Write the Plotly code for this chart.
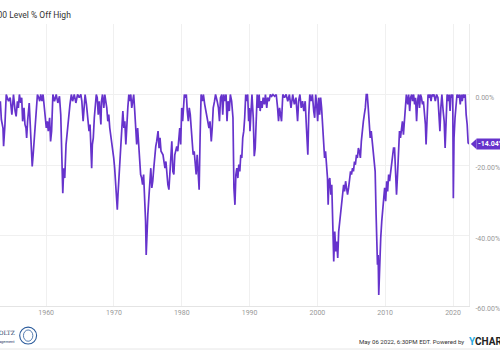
import plotly.graph_objects as go

# ---- data (decimal year, % off high) ----
years = [
    1953.24, 1953.39, 1953.63, 1953.72, 1953.92, 1954.11, 1954.45, 1954.69, 1954.94, 1955.18,
    1955.42, 1955.57, 1955.76, 1955.90, 1956.05, 1956.24, 1956.39, 1956.53, 1956.73, 1956.87,
    1957.02, 1957.12, 1957.26, 1957.41, 1957.50, 1957.65, 1957.79, 1957.94, 1958.08, 1958.23,
    1958.38, 1958.57, 1958.71, 1958.91, 1959.05, 1959.20, 1959.39, 1959.54, 1959.68, 1959.83,
    1960.02, 1960.17, 1960.31, 1960.51, 1960.65, 1960.80, 1960.99, 1961.23, 1961.48, 1961.72,
    1961.96, 1962.15, 1962.30, 1962.45, 1962.59, 1962.74, 1962.93, 1963.12, 1963.32, 1963.51,
    1963.71, 1963.90, 1964.14, 1964.38, 1964.63,
    1964.87, 1965.11, 1965.26, 1965.45, 1965.60, 1965.74, 1965.94, 1966.13, 1966.32, 1966.47,
    1966.61, 1966.71, 1966.81, 1966.95, 1967.10, 1967.24, 1967.39, 1967.53, 1967.68, 1967.83,
    1967.97, 1968.07, 1968.16, 1968.31, 1968.50, 1968.65, 1968.79, 1968.94, 1969.09, 1969.23,
    1969.38, 1969.52, 1969.67, 1969.81, 1969.96, 1970.10, 1970.25, 1970.39, 1970.49, 1970.59,
    1970.73, 1970.88, 1971.02, 1971.17, 1971.31, 1971.46, 1971.60, 1971.75, 1971.90, 1972.04,
    1972.19, 1972.33, 1972.48, 1972.62, 1972.77, 1972.91, 1973.06, 1973.20, 1973.35, 1973.49,
    1973.64, 1973.79, 1973.93, 1974.08, 1974.22, 1974.37, 1974.51, 1974.66, 1974.75, 1974.85,
    1974.99, 1975.14, 1975.29, 1975.43, 1975.58, 1975.72, 1975.87, 1976.01, 1976.16, 1976.30,
    1976.50, 1976.65, 1976.79, 1976.94, 1977.08, 1977.23, 1977.37, 1977.52, 1977.66, 1977.81,
    1977.95, 1978.10, 1978.24, 1978.39, 1978.53, 1978.68, 1978.83, 1978.97, 1979.12, 1979.26,
    1979.41, 1979.55, 1979.70, 1979.84, 1979.99, 1980.13, 1980.28, 1980.38, 1980.52, 1980.67,
    1980.81, 1980.96, 1981.10, 1981.25, 1981.39, 1981.54, 1981.68, 1981.83, 1981.97, 1982.12,
    1982.27, 1982.41, 1982.56, 1982.70, 1982.85, 1983.04, 1983.19, 1983.38, 1983.57, 1983.77,
    1984.01, 1984.16, 1984.35, 1984.49, 1984.64, 1984.83, 1984.98, 1985.22, 1985.41, 1985.56,
    1985.71, 1985.90, 1986.04, 1986.19, 1986.38, 1986.53, 1986.67, 1986.82, 1987.01, 1987.16,
    1987.35, 1987.55, 1987.69, 1987.84, 1987.98,
    1988.12, 1988.27, 1988.41, 1988.56, 1988.70, 1988.85, 1988.99, 1989.14, 1989.28, 1989.43,
    1989.57, 1989.72, 1989.86, 1989.96, 1990.06, 1990.20, 1990.35, 1990.54, 1990.69, 1990.83,
    1990.98, 1991.12, 1991.27, 1991.41, 1991.56, 1991.71, 1991.85, 1992.00, 1992.19, 1992.34,
    1992.53, 1992.67, 1992.87, 1993.06, 1993.26, 1993.45, 1993.69, 1993.93, 1994.13, 1994.27,
    1994.42, 1994.56, 1994.71, 1994.90, 1995.15, 1995.39, 1995.63, 1995.87, 1996.11, 1996.36,
    1996.60, 1996.84, 1997.08, 1997.23, 1997.42, 1997.62, 1997.81, 1998.00, 1998.20, 1998.39,
    1998.59, 1998.73, 1998.88, 1999.07, 1999.26, 1999.46, 1999.60,
    1999.75, 1999.90, 2000.04, 2000.19, 2000.33, 2000.48, 2000.62, 2000.72, 2000.82, 2000.91,
    2001.06, 2001.20, 2001.35, 2001.49, 2001.59, 2001.69, 2001.83, 2001.98, 2002.12, 2002.27,
    2002.41, 2002.56, 2002.71, 2002.85, 2003.00, 2003.14, 2003.29, 2003.43, 2003.58, 2003.72,
    2003.87, 2004.01, 2004.16, 2004.30, 2004.45, 2004.60, 2004.74, 2004.89, 2005.03, 2005.18,
    2005.32, 2005.47, 2005.61, 2005.76, 2005.90, 2006.05, 2006.19, 2006.34, 2006.48, 2006.63,
    2006.78, 2006.92, 2007.07, 2007.21, 2007.36, 2007.50, 2007.65, 2007.79, 2007.94, 2008.08,
    2008.23, 2008.37, 2008.52, 2008.66, 2008.76, 2008.86, 2008.96, 2009.05, 2009.15, 2009.25,
    2009.34, 2009.49, 2009.63, 2009.78, 2009.92, 2010.07, 2010.22, 2010.36, 2010.51, 2010.65,
    2010.80, 2010.94, 2011.09, 2011.23,
    2011.38, 2011.53, 2011.67, 2011.82, 2011.96, 2012.11, 2012.25, 2012.40, 2012.54, 2012.69,
    2012.83, 2012.98, 2013.12, 2013.32, 2013.46, 2013.61, 2013.75, 2013.90, 2014.04, 2014.19,
    2014.34, 2014.48, 2014.63, 2014.77, 2014.92, 2015.06, 2015.21, 2015.35, 2015.50, 2015.64,
    2015.79, 2015.93, 2016.03, 2016.18, 2016.32, 2016.47, 2016.61, 2016.76, 2016.90, 2017.05,
    2017.19, 2017.39, 2017.58, 2017.78, 2017.92, 2018.07, 2018.21, 2018.36, 2018.55, 2018.70,
    2018.84, 2018.99, 2019.13, 2019.28, 2019.42, 2019.57, 2019.71, 2019.86, 2019.96, 2020.05,
    2020.15, 2020.30, 2020.44, 2020.59, 2020.78, 2020.93, 2021.07, 2021.22, 2021.36, 2021.51,
    2021.65, 2021.80, 2021.94, 2022.09, 2022.23, 2022.35,
]
pct = [
    -1.9, -7.1, -9.5, -14.7, -8.5, 0.0, -1.9, -0.9, -5.7, 0.0,
    -4.7, -6.2, -1.9, -3.8, 0.0, -2.4, -0.9, -7.6, -3.8, -8.5,
    -9.5, -12.3, -7.6, -3.8, -2.4, -8.5, -16.1, -20.4, -17.1, -12.3,
    -7.6, -3.8, 0.0, -0.9, -1.9, 0.0, -1.9, 0.0, -2.8, -5.7,
    -9.5, -7.6, -10.4, -6.6, -13.3, -10.4, 0.0, -1.9, 0.0, -2.4,
    -0.5, -5.7, -17.1, -28.0, -20.9, -23.7, -14.2, -10.4, -4.7, -2.8,
    0.0, -1.9, 0.0, -2.4, 0.0,
    -0.9, 0.0, -1.9, -7.6, -1.9, 0.0, -2.8, -6.6, -10.4, -8.5,
    -17.1, -20.9, -14.2, -12.3, -6.6, -3.8, 0.0, -0.9, -5.7, -1.9,
    -7.6, -8.5, -1.9, 0.0, -3.8, 0.0, -1.9, -3.8, -7.6, -5.7,
    -9.5, -11.4, -13.3, -15.2, -18.0, -20.9, -25.6, -30.3, -32.7, -28.4,
    -23.7, -19.9, -12.3, -6.6, -4.7, -9.5, -7.6, -14.2, -7.6, -3.8,
    0.0, -1.9, 0.0, -3.8, -1.9, 0.0, -4.7, -8.5, -14.2, -9.5,
    -15.2, -18.0, -22.7, -23.7, -25.6, -22.7, -28.4, -36.0, -45.5, -38.9,
    -34.1, -29.4, -23.7, -20.9, -26.5, -24.6, -20.9, -16.1, -14.7, -13.3,
    -10.4, -15.2, -12.3, -16.1, -16.6, -17.1, -19.0, -20.9, -19.0, -22.7,
    -25.6, -27.0, -21.8, -17.1, -13.3, -21.8, -22.7, -17.1, -15.2, -14.7,
    -16.1, -11.4, -9.5, -14.2, -3.8, -7.6, -1.9, 0.0, -0.9, 0.0,
    -4.7, -7.6, -3.8, -5.7, -9.5, -14.2, -17.1, -16.1, -19.9, -22.7,
    -17.1, -20.9, -27.0, -12.3, 0.0, -1.9, 0.0, -2.8, -4.7, -6.6,
    -9.5, -7.6, -13.3, -9.5, -3.8, -1.9, 0.0, -1.9, -3.8, -7.6,
    -0.9, 0.0, -5.7, 0.0, -1.9, 0.0, -7.6, -1.9, -4.7, 0.0,
    -1.9, -6.6, -26.5, -31.3, -22.7,
    -20.9, -23.7, -19.9, -21.8, -17.1, -18.0, -12.3, -10.4, -6.6, 0.0,
    -1.9, 0.0, -7.6, -3.8, -10.4, -3.8, 0.0, -6.6, -17.5, -15.2,
    -6.6, 0.0, -3.8, 0.0, -4.7, -1.9, -3.8, -0.9, -2.8, 0.0,
    -3.8, -0.9, -1.9, 0.0, -0.5, 0.0, -0.5, 0.0, -3.8, -7.6,
    -3.8, -6.6, -7.6, 0.0, -0.9, 0.0, -1.9, 0.0, -3.8, 0.0,
    -2.8, -0.9, -7.6, -1.9, 0.0, -3.8, -1.9, -4.7, -1.9, -9.5,
    -17.1, -5.7, 0.0, -1.9, 0.0, -4.7, -6.6,
    0.0, -2.8, -7.6, -0.9, -5.7, -0.9, -3.8, -7.6, -10.4, -14.2,
    -18.0, -16.1, -20.9, -23.7, -31.3, -24.6, -23.7, -28.4, -25.6, -36.0,
    -47.4, -38.9, -44.5, -41.7, -46.4, -38.9, -36.0, -34.1, -31.3, -28.4,
    -25.6, -27.5, -24.6, -26.5, -28.4, -26.5, -23.7, -21.8, -22.7, -20.9,
    -21.8, -19.0, -19.9, -17.1, -18.0, -15.2, -16.1, -18.0, -13.3, -9.5,
    -7.6, -5.7, -3.8, 0.0, 0.0, -3.8, -7.6, -12.3, -10.4, -13.3,
    -15.2, -19.9, -21.8, -34.1, -40.8, -48.3, -45.5, -56.9, -51.2, -44.5,
    -40.8, -36.0, -33.2, -29.4, -26.5, -30.3, -24.6, -27.5, -22.7, -24.6,
    -21.8, -19.0, -16.1, -15.2,
    -15.2, -20.9, -28.4, -22.7, -17.1, -10.4, -12.3, -9.5, -7.6, -11.4,
    -6.6, -1.9, 0.0, -2.8, 0.0, -4.7, -0.9, 0.0, -1.9, 0.0,
    -2.8, -0.9, -7.6, -1.9, 0.0, -3.8, 0.0, -0.9, -2.8, -1.9,
    -5.7, -8.5, -14.2, -3.8, 0.0, -0.9, 0.0, -1.9, 0.0, -0.5,
    0.0, -1.9, 0.0, -0.9, -5.7, -10.4, -3.8, 0.0, -4.7, -7.6,
    -15.2, -3.8, 0.0, -1.9, 0.0, -4.7, 0.0, -0.9, 0.0, -29.4,
    -12.3, -6.6, -3.8, 0.0, -0.9, 0.0, -2.8, 0.0, -1.9, 0.0,
    -0.9, 0.0, -5.7, -8.5, -13.7, -14.04,
]

x_tick_vals = [1960, 1970, 1980, 1990, 2000, 2010, 2020]
x_tick_text = ["1960", "1970", "1980", "1990", "2000", "2010", "2020"]
y_tick_vals = [-60, -40, -20, 0, 20]
y_tick_text = ["-60.00%", "-40.00%", "-20.00%", "0.00%", ""]

title_text = "S&P 500 Level % Off High"
footer_text = "May 06 2022, 6:30PM EDT. Powered by"
line_color = "#6633cc"

fig = go.Figure()
fig.add_trace(go.Scatter(
    x=years, y=pct, mode="lines",
    line=dict(color=line_color, width=1.7),
    hoverinfo="skip",
))

fig.update_layout(
    width=500, height=350,
    margin=dict(l=0, r=25, t=24, b=44),
    paper_bgcolor="white", plot_bgcolor="white",
    showlegend=False,
    font=dict(family="Roboto", size=7, color="#999999"),
)
fig.update_xaxes(
    range=[1953.19, 2022.36],
    tickvals=x_tick_vals, ticktext=x_tick_text,
    showgrid=True, gridcolor="#f0f0f0", gridwidth=1,
    showline=True, linecolor="#e4e4e4", linewidth=1,
    zeroline=False, ticks="",
    tickfont=dict(family="Roboto", size=7, color="#999999"),
)
fig.update_yaxes(
    side="right",
    range=[-60, 20],
    tickvals=y_tick_vals, ticktext=y_tick_text,
    showgrid=True, gridcolor="#f0f0f0", gridwidth=1,
    showline=True, linecolor="#ececec", linewidth=1,
    zeroline=False, ticks="",
    ticklabelstandoff=4,
    ticklabelshift=3,
    tickfont=dict(family="Roboto", size=7, color="#999999"),
)

last_val = pct[-1]
fig.add_annotation(
    xref="paper", yref="y", x=1.0, y=last_val,
    xanchor="left", yanchor="middle", xshift=7,
    text="<b>%.2f%%</b>" % last_val, showarrow=False,
    bgcolor=line_color, borderpad=1,
    font=dict(family="Roboto", size=7, color="white"),
)
fig.add_shape(
    type="path", xref="paper", yref="y",
    path="M 1.004 %f L 1.016 %f L 1.016 %f Z" % (last_val, last_val + 1.5, last_val - 1.5),
    fillcolor=line_color, line=dict(width=0),
)

fig.add_annotation(
    xref="paper", yref="paper", x=-0.058, y=1.032,
    xanchor="left", yanchor="middle",
    text=title_text, showarrow=False,
    font=dict(family="Roboto", size=8.5, color="#333333"),
)

fig.add_annotation(
    xref="paper", yref="paper", x=0.993, y=-0.1266,
    xanchor="right", yanchor="middle",
    text=footer_text, showarrow=False,
    font=dict(family="Roboto", size=6.1, color="#333333"),
)
fig.add_annotation(
    xref="paper", yref="paper", x=0.995, y=-0.1266,
    xanchor="left", yanchor="middle",
    text="<b><span style='color:#29a9e1'>Y</span>CHARTS</b>", showarrow=False,
    font=dict(family="Roboto", size=10, color="#222222"),
)

# logo approximation
fig.add_annotation(
    xref="paper", yref="paper", x=-0.016, y=-0.095,
    xanchor="left", yanchor="middle",
    text="GOLTZ", showarrow=False,
    font=dict(family="DejaVu Serif", size=5.8, color="#1e3a66"),
)
fig.add_annotation(
    xref="paper", yref="paper", x=0.036, y=-0.125,
    xanchor="right", yanchor="middle",
    text="Management", showarrow=False,
    font=dict(family="Roboto", size=4, color="#1e3a66"),
)
fig.add_shape(type="circle", xref="paper", yref="paper",
              x0=0.042, x1=0.078, y0=-0.135, y1=-0.075,
              line=dict(color="#2c5c9c", width=1.1))
fig.add_shape(type="circle", xref="paper", yref="paper",
              x0=0.050, x1=0.070, y0=-0.125, y1=-0.085,
              line=dict(color="#2c5c9c", width=0.8))

fig.add_shape(type="line", xref="paper", yref="paper",
              x0=-0.1, x1=1.1, y0=-0.1525, y1=-0.1525,
              line=dict(color="#e6e6e6", width=1))

fig.write_html("out.html")
